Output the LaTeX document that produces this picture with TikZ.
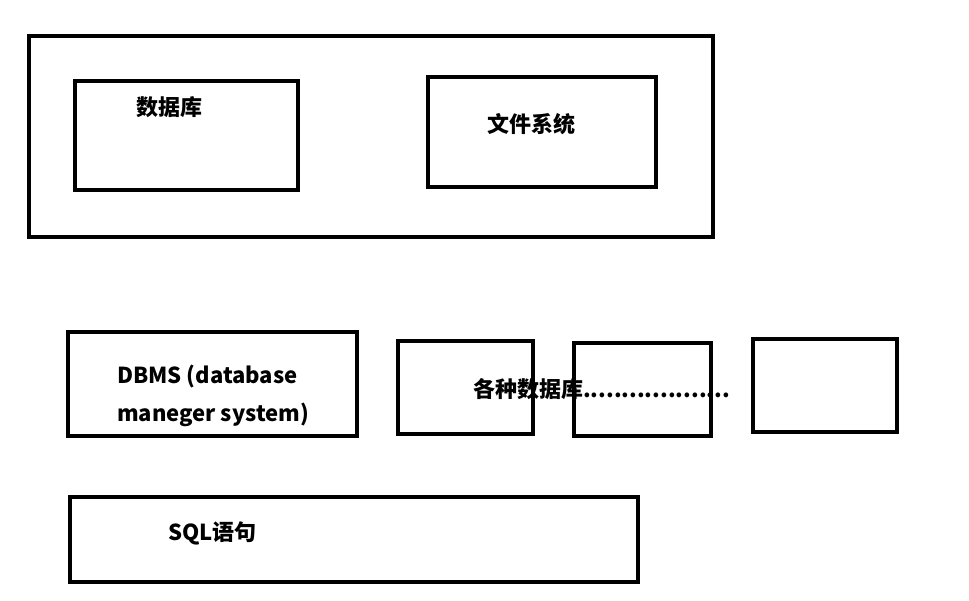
\documentclass[tikz,border=0pt]{standalone}
\usepackage{fontspec}
\newfontfamily\cjk{Noto Sans CJK SC}
\usetikzlibrary{positioning}

\begin{document}
\begin{tikzpicture}[
  x=1pt,y=-1pt,
  box/.style={draw=black,line width=4.3pt,fill=none,inner sep=0pt},
  lbl/.style={font=\cjk\bfseries\fontsize{22}{38}\selectfont,text=black,anchor=west,inner sep=0pt,align=left},
]
\useasboundingbox (0,0) rectangle (969,600);

% ===================== TOP: storage =====================
\node[box,minimum width=684pt,minimum height=201pt] (store) at (371,136.5){};
\node[box,minimum width=223pt,minimum height=109pt] (dbbox) at (186.5,135.5){};
\node[box,minimum width=228pt,minimum height=110pt] (fsbox) at (542,132){};
\node[lbl] (dblbl) at (136,107) {数据库};
\node[lbl] (fslbl) at (487,124) {文件系统};

% ===================== MIDDLE: DBMS row =====================
\node[box,minimum width=289pt,minimum height=104pt] (dbms) at (212.5,384){};
\node[lbl] (dbmslbl) at (117,396) {DBMS (database\\maneger system)};
\node[box,minimum width=135pt,minimum height=93pt] (kindA) at (465.5,387.5){};
\node[box,minimum width=137pt,minimum height=93pt] (kindB) at (642.5,389.5){};
\node[box,minimum width=144pt,minimum height=93pt] (kindC) at (825,385.5){};
\node[lbl] (kindlbl) at (473,389) {各种数据库...................};

% ===================== BOTTOM: SQL =====================
\node[box,minimum width=568pt,minimum height=85pt] (sql) at (354,539.5){};
\node[lbl] (sqllbl) at (168,533) {SQL语句};

\end{tikzpicture}
\end{document}
